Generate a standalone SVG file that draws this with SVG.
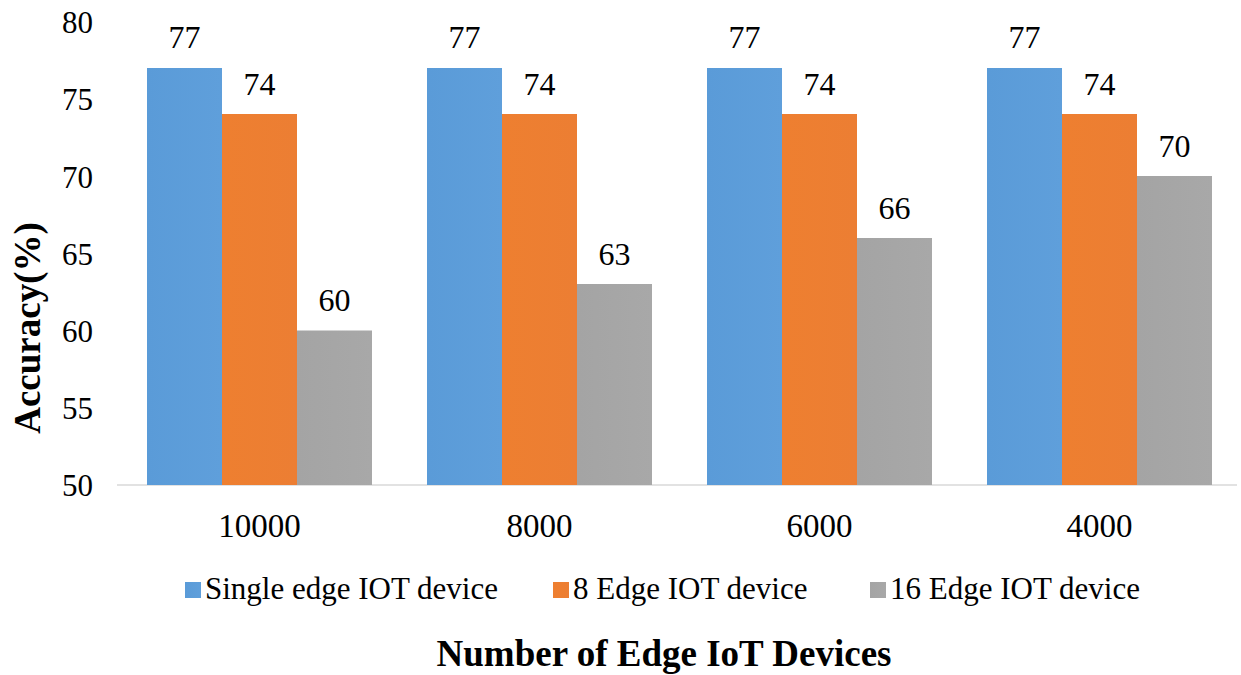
<svg xmlns="http://www.w3.org/2000/svg" width="1241" height="675" viewBox="0 0 1241 675">
<defs>
<linearGradient id="gb" x1="0" x2="1" y1="0" y2="0"><stop offset="0" stop-color="#5A9BD8"/><stop offset="1" stop-color="#5F9FDB"/></linearGradient>
<linearGradient id="go" x1="0" x2="1" y1="0" y2="0"><stop offset="0" stop-color="#EE7F30"/><stop offset="1" stop-color="#EC7E33"/></linearGradient>
<linearGradient id="gg" x1="0" x2="1" y1="0" y2="0"><stop offset="0" stop-color="#A4A4A4"/><stop offset="1" stop-color="#A8A8A8"/></linearGradient>
</defs>
<style>
text{fill:#000}
.tick{font-size:31px;text-anchor:end}
.val{font-size:32px;text-anchor:middle}
.cat{font-size:33px;text-anchor:middle}
.leg{font-size:31px}
.title{font-size:37px;font-weight:bold;text-anchor:middle}
.b{fill:url(#gb)}
.o{fill:url(#go)}
.g{fill:url(#gg)}
</style>
<rect width="1241" height="675" fill="#fff"/>
<g font-family="'Liberation Serif', 'DejaVu Serif', serif">
<g id="y-axis">
<text class="tick" x="93" y="33">80</text>
<text class="tick" x="93" y="110">75</text>
<text class="tick" x="93" y="188">70</text>
<text class="tick" x="93" y="265">65</text>
<text class="tick" x="93" y="342">60</text>
<text class="tick" x="93" y="419">55</text>
<text class="tick" x="93" y="496">50</text>
<text class="title" transform="translate(40,328) rotate(-90)">Accuracy(%)</text>
</g>
<g id="axis-line">
<line x1="117" y1="485" x2="1237" y2="485" stroke="#D9D9D9" stroke-width="1.5"/>
</g>
<g id="group-10000">
<rect class="b" x="147" y="68" width="75" height="417"/>
<rect class="o" x="222" y="114" width="75" height="371"/>
<rect class="g" x="297" y="330.5" width="75" height="154.5"/>
<text class="val" x="184.5" y="48">77</text>
<text class="val" x="259.5" y="95">74</text>
<text class="val" x="334.5" y="311">60</text>
<text class="cat" x="259.5" y="537">10000</text>
</g>
<g id="group-8000">
<rect class="b" x="427" y="68" width="75" height="417"/>
<rect class="o" x="502" y="114" width="75" height="371"/>
<rect class="g" x="577" y="284" width="75" height="201"/>
<text class="val" x="464.5" y="48">77</text>
<text class="val" x="539.5" y="95">74</text>
<text class="val" x="614.5" y="265">63</text>
<text class="cat" x="539.5" y="537">8000</text>
</g>
<g id="group-6000">
<rect class="b" x="707" y="68" width="75" height="417"/>
<rect class="o" x="782" y="114" width="75" height="371"/>
<rect class="g" x="857" y="238" width="75" height="247"/>
<text class="val" x="744.5" y="48">77</text>
<text class="val" x="819.5" y="95">74</text>
<text class="val" x="894.5" y="219">66</text>
<text class="cat" x="819.5" y="537">6000</text>
</g>
<g id="group-4000">
<rect class="b" x="987" y="68" width="75" height="417"/>
<rect class="o" x="1062" y="114" width="75" height="371"/>
<rect class="g" x="1137" y="176" width="75" height="309"/>
<text class="val" x="1024.5" y="48">77</text>
<text class="val" x="1099.5" y="95">74</text>
<text class="val" x="1174.5" y="157">70</text>
<text class="cat" x="1099.5" y="537">4000</text>
</g>
<g id="legend">
<rect class="b" x="185" y="582" width="16" height="16"/>
<text class="leg" x="205" y="599">Single edge IOT device</text>
<rect class="o" x="553" y="582" width="16" height="16"/>
<text class="leg" x="573" y="599">8 Edge IOT device</text>
<rect class="g" x="870" y="582" width="16" height="16"/>
<text class="leg" x="890" y="599">16 Edge IOT device</text>
</g>
<g id="x-title">
<text class="title" x="664" y="666">Number of Edge IoT Devices</text>
</g>
</g>
</svg>
